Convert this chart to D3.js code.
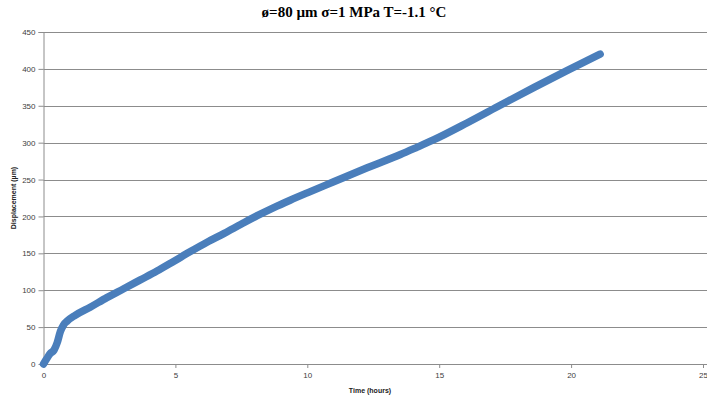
<!DOCTYPE html>
<html>
<head>
<meta charset="utf-8">
<script src="https://cdn.jsdelivr.net/npm/d3@7"></script>
<style>
  body { margin: 0; background: #fff; }
  .tick text { font-family: "Liberation Sans", Arial, sans-serif; font-size: 8px; fill: #404040; }
</style>
</head>
<body>
<div id="chart"></div>
<script>
// data
var hours = [0, 0.12, 0.25, 0.4, 0.52, 0.64, 0.76, 0.89, 1.2, 1.77, 2.4, 3.04, 3.67, 4.3, 4.93, 5.55, 6.2, 6.85, 7.47, 8.1, 8.73, 9.35, 10.0, 11.0, 12.27, 13.53, 14.17, 14.8, 16.07, 17.33, 18.6, 19.86, 21.1];
var displacement = [0, 7, 14, 19, 29, 44, 53, 58, 66, 77, 90, 102, 114, 126, 139, 152, 165, 177, 189, 201, 212, 222, 232, 247, 266, 284, 294, 304, 327, 351, 375, 398, 420];
var xTicks = [0, 5, 10, 15, 20, 25];
var yTicks = [0, 50, 100, 150, 200, 250, 300, 350, 400, 450];

var svgWidth = 707;
var svgHeight = 399;

var margin = { top: 32, right: 4, bottom: 35, left: 43.5 };
var chartWidth = 703 - margin.left;
var chartHeight = 364 - margin.top;

var svg = d3.select("#chart").append("svg")
    .attr("width", svgWidth)
    .attr("height", svgHeight);

var chartGroup = svg.append("g")
    .attr("transform", `translate(${margin.left}, ${margin.top})`);

var xScale = d3.scaleLinear().domain([0, 25]).range([0, chartWidth]);
var yScale = d3.scaleLinear().domain([0, 450]).range([chartHeight, 0]);

// gridlines
chartGroup.selectAll(".grid")
    .data(yTicks.slice(1))
    .enter()
    .append("line")
    .attr("x1", 0)
    .attr("x2", svgWidth - margin.left)
    .attr("y1", d => Math.round(yScale(d)) + 0.5)
    .attr("y2", d => Math.round(yScale(d)) + 0.5)
    .attr("stroke", "#8c8c8c")
    .attr("stroke-width", 1);

// axes
var xAxis = d3.axisBottom(xScale).tickValues(xTicks).tickSize(4).tickPadding(4);
var yAxis = d3.axisLeft(yScale).tickValues(yTicks).tickSize(5).tickPadding(3);

var gx = chartGroup.append("g")
    .attr("transform", `translate(0, ${chartHeight})`)
    .call(xAxis);
gx.select(".domain").remove();
gx.append("line")
    .attr("x1", 0).attr("x2", svgWidth - margin.left)
    .attr("y1", 0.5).attr("y2", 0.5)
    .attr("stroke", "#8c8c8c");
gx.selectAll(".tick line").attr("stroke", "#8c8c8c");

var gy = chartGroup.append("g").call(yAxis);
gy.select(".domain").attr("stroke", "#8c8c8c").attr("d", `M-5,0.5H0.5V${chartHeight}`);
gy.selectAll(".tick line").attr("stroke", "#8c8c8c");

// data series
var points = hours.map((h, i) => [h, displacement[i]]);
var line = d3.line()
    .x(d => xScale(d[0]))
    .y(d => yScale(d[1]))
    .curve(d3.curveMonotoneX);

chartGroup.append("path")
    .datum(points)
    .attr("d", line)
    .attr("fill", "none")
    .attr("stroke", "#4a7ebb")
    .attr("stroke-width", 7.5)
    .attr("stroke-linecap", "round")
    .attr("stroke-linejoin", "round");

// title
svg.append("text")
    .attr("x", 354)
    .attr("y", 17)
    .attr("text-anchor", "middle")
    .attr("font-family", "Liberation Serif, Times New Roman, serif")
    .attr("font-weight", "bold")
    .attr("font-size", "15px")
    .text("ø=80 µm σ=1 MPa T=-1.1 °C");

// axis titles
svg.append("text")
    .attr("transform", "translate(16, 198) rotate(-90)")
    .attr("text-anchor", "middle")
    .attr("font-family", "Liberation Sans, Arial, sans-serif")
    .attr("font-weight", "bold")
    .attr("font-size", "7px")
    .attr("fill", "#222")
    .text("Displacement  (µm)");

svg.append("text")
    .attr("x", 370)
    .attr("y", 393)
    .attr("text-anchor", "middle")
    .attr("font-family", "Liberation Sans, Arial, sans-serif")
    .attr("font-weight", "bold")
    .attr("font-size", "7px")
    .attr("fill", "#222")
    .text("Time (hours)");
</script>
</body>
</html>
